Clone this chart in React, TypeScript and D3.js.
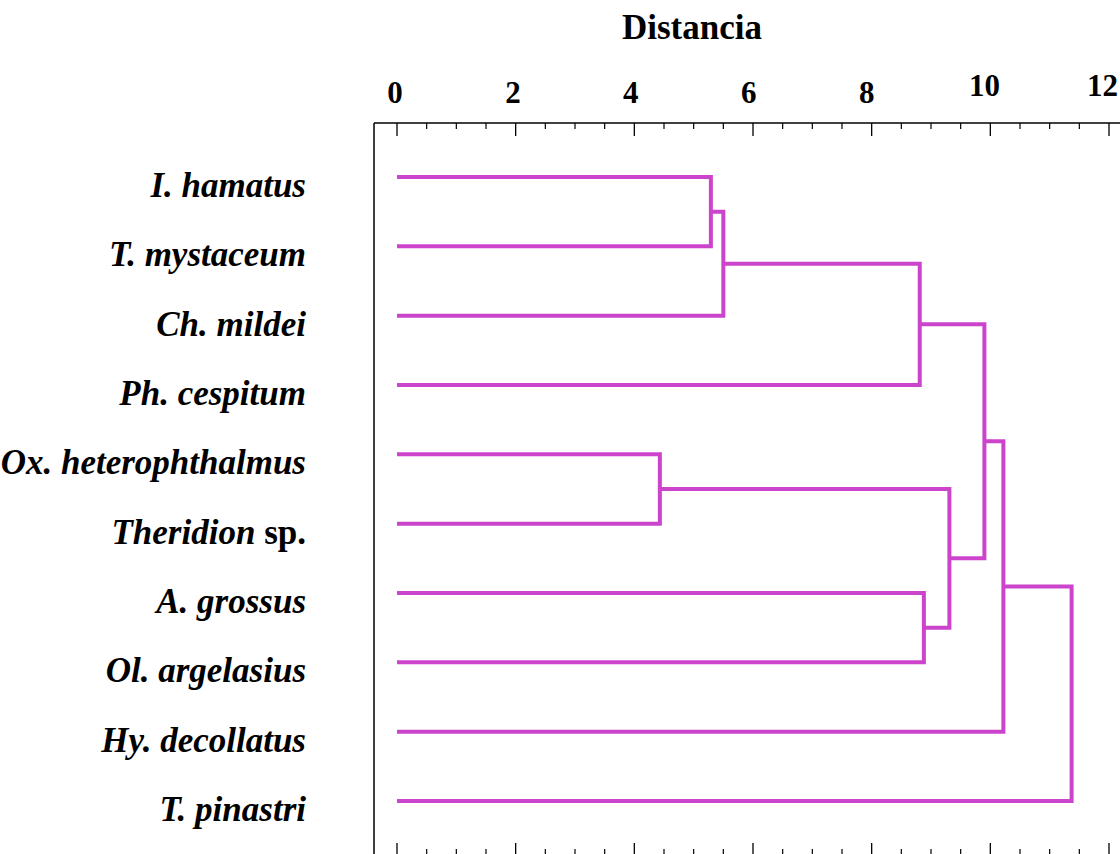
import React from 'react';
import * as d3 from 'd3';

const species = [
  'I. hamatus',
  'T. mystaceum',
  'Ch. mildei',
  'Ph. cespitum',
  'Ox. heterophthalmus',
  'Theridion sp.',
  'A. grossus',
  'Ol. argelasius',
  'Hy. decollatus',
  'T. pinastri',
];

// merge steps: cluster index = species.length + step
const mergeLeft = [0, 10, 11, 4, 6, 13, 12, 16, 17];
const mergeRight = [1, 2, 3, 5, 7, 14, 15, 8, 9];
const mergeHeight = [5.29, 5.5, 8.81, 4.43, 8.88, 9.31, 9.9, 10.22, 11.37];

const majorTicks = [0, 2, 4, 6, 8, 10, 12];
const axisTitle = 'Distancia';

const W = 1120;
const H = 854;
const COLOR = '#CC44CC';
const FONT = '"Liberation Serif", "Times New Roman", serif';

export default function App() {
  const x = d3.scaleLinear().domain([0, 12]).range([397, 1109]);
  const y = d3
    .scalePoint<number>()
    .domain(d3.range(species.length))
    .range([177, 801]);

  const nodes: { h: number; y: number }[] = species.map((_, i) => ({ h: 0, y: y(i) as number }));
  const paths: string[] = [];
  mergeLeft.forEach((l, i) => {
    const r = mergeRight[i];
    const a = nodes[l];
    const b = nodes[r];
    const h = mergeHeight[i];
    const nx = x(h);
    const p = d3.path();
    p.moveTo(x(a.h), a.y);
    p.lineTo(nx, a.y);
    p.lineTo(nx, b.y);
    p.lineTo(x(b.h), b.y);
    paths.push(p.toString());
    nodes.push({ h, y: (a.y + b.y) / 2 });
  });

  const minorTicks = d3.range(0, 12.001, 0.5).filter((v) => !majorTicks.includes(v));
  const frameTop = 123;
  const frameBottom = 855;
  const frameLeft = 374;

  return (
    <svg
      width={W}
      height={H}
      style={{ position: 'absolute', left: 0, top: 0, background: '#fff' }}
      fontFamily={FONT}
    >
      <rect x={0} y={0} width={W} height={H} fill="#fff" />
      <text x={692} y={39} textAnchor="middle" fontSize={35} fontWeight="bold">
        {axisTitle}
      </text>
      {majorTicks.map((t) => (
        <text
          key={'tl' + t}
          x={x(t) - 2 - t * 0.38}
          y={String(t).length > 1 ? 95.5 : 102.5}
          textAnchor="middle"
          fontSize={31}
          fontWeight="bold"
        >
          {t}
        </text>
      ))}
      {/* frame */}
      <line x1={frameLeft} x2={W} y1={frameTop} y2={frameTop} stroke="#000" strokeWidth={1.5} />
      <line x1={frameLeft} x2={frameLeft} y1={frameTop} y2={frameBottom} stroke="#000" strokeWidth={1.5} />
      <line x1={frameLeft} x2={W} y1={frameBottom} y2={frameBottom} stroke="#000" strokeWidth={1.5} />
      {majorTicks.map((t) => (
        <g key={'mj' + t}>
          <line x1={x(t)} x2={x(t)} y1={frameTop} y2={frameTop + 13} stroke="#000" strokeWidth={1.3} />
          <line x1={x(t)} x2={x(t)} y1={frameBottom} y2={frameBottom - 12} stroke="#000" strokeWidth={1.3} />
        </g>
      ))}
      {minorTicks.map((t) => (
        <g key={'mn' + t}>
          <line x1={x(t)} x2={x(t)} y1={frameTop} y2={frameTop + 6} stroke="#000" strokeWidth={1.2} />
          <line x1={x(t)} x2={x(t)} y1={frameBottom} y2={frameBottom - 6} stroke="#000" strokeWidth={1.2} />
        </g>
      ))}
      {/* dendrogram */}
      {paths.map((d, i) => (
        <path key={'p' + i} d={d} fill="none" stroke={COLOR} strokeWidth={4} strokeLinejoin="miter" />
      ))}
      {/* labels */}
      {species.map((s, i) => {
        const isSp = s.endsWith(' sp.');
        return (
          <text
            key={'lab' + i}
            x={306}
            y={(y(i) as number) + 20}
            textAnchor="end"
            fontSize={35}
            fontWeight="bold"
          >
            {isSp ? (
              <>
                <tspan fontStyle="italic">{s.replace(' sp.', '')}</tspan>
                <tspan> sp.</tspan>
              </>
            ) : (
              <tspan fontStyle="italic">{s}</tspan>
            )}
          </text>
        );
      })}
    </svg>
  );
}
